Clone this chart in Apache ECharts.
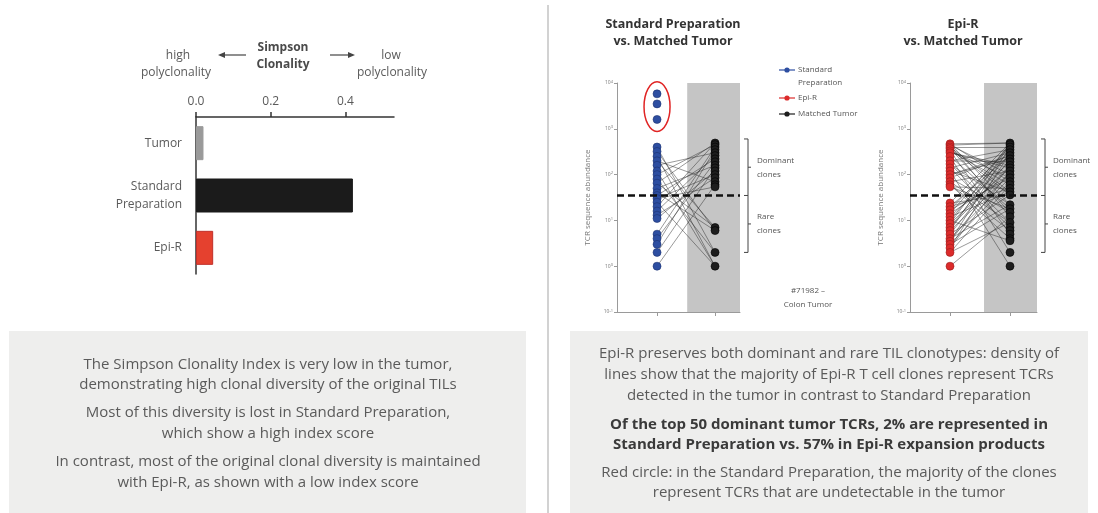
<!DOCTYPE html>
<html><head><meta charset="utf-8">
<script src="https://cdn.jsdelivr.net/npm/echarts@6/dist/echarts.min.js"></script>
<style>html,body{margin:0;padding:0;background:#fff}#c{width:1098px;height:513px}</style>
</head><body><div id="c"></div>
<script>
// ---------- DATA ----------
const barCategories = ['Tumor', 'Standard\nPreparation', 'Epi-R'];
const clonalityValues = [0.02, 0.42, 0.046];
const clonalityTicks = [0, 0.2, 0.4];

// Panel 1: Standard Preparation vs. Matched Tumor (TCR sequence abundance)
const stdPrepValues = [5800, 3500, 1600, 400, 320, 250, 200, 160, 120, 100, 80, 65, 50, 40, 35, 30, 25, 20, 16, 13, 11, 5, 4, 3, 2, 1];
const stdTumorValues = [490, 450, 400, 350, 300, 260, 220, 190, 160, 140, 120, 100, 85, 70, 60, 54, 7, 6, 2, 1];
const stdLinks = [[400, 2], [320, 6], [250, 1], [200, 7], [160, 300], [120, 1], [100, 450], [80, 2], [65, 7], [50, 160], [40, 6], [35, 220], [30, 100], [25, 1], [20, 490], [16, 260], [13, 85], [11, 120], [5, 400], [4, 190], [3, 350], [2, 140], [1, 60], [30, 54], [65, 490], [200, 70]];

// Panel 2: Epi-R vs. Matched Tumor
const epiValues = [470, 440, 400, 370, 330, 300, 250, 200, 170, 140, 120, 100, 85, 70, 60, 54, 24, 20, 17, 14, 12, 10, 8.5, 7, 6, 5, 4, 3.5, 3, 2.5, 2, 1];
const epiTumorValues = [490, 450, 400, 350, 300, 260, 220, 190, 160, 140, 120, 100, 85, 70, 60, 50, 42, 36, 22, 18, 15, 12, 9, 7, 6, 5, 4, 3.6, 2, 1];
const epiLinks = [[470, 490], [470, 22], [440, 12], [400, 400], [370, 36], [330, 5], [300, 160], [250, 2], [200, 350], [170, 9], [140, 300], [120, 1], [100, 220], [85, 15], [70, 120], [60, 6], [54, 50], [470, 70], [400, 42], [300, 140], [250, 18], [200, 190], [140, 7], [100, 260], [60, 4], [24, 490], [20, 260], [17, 400], [14, 450], [12, 190], [10, 350], [8.5, 140], [7, 300], [6, 100], [5, 220], [4, 85], [3.5, 160], [3, 70], [2.5, 120], [2, 60], [1, 12], [24, 36], [17, 85], [12, 42], [8.5, 490], [6, 450], [4, 22], [3, 18], [2, 9], [14, 100], [10, 3.6], [440, 100], [370, 15], [330, 60], [170, 22], [120, 42], [85, 260], [70, 9], [54, 18], [20, 50], [7, 160], [5, 36], [3.5, 400], [2.5, 300], [440, 490], [330, 85]];

const dominantThreshold = 35;
const bracketRange = [600, 35, 2];

// ---------- STYLE ----------
const FONT = '"Open Sans", "Noto Sans", sans-serif';
const TXT = '#5a5a5a';
const BLUE = '#2d4ea1', RED = '#dc2b2b', BLACK = '#1e1e1e';
const barColors = ['#9a9a9a', '#1b1b1b', '#e5412f'];

const chart = echarts.init(document.getElementById('c'), null, {renderer: 'canvas'});

function logLabel(v) {
  const e = Math.round(Math.log10(v));
  return '10{s|' + e + '}';
}

function plotXAxis(grid, min, max) {
  return {gridIndex: grid, type: 'value', min: min, max: max,
    axisLine: {show: true, onZero: false, lineStyle: {color: '#9a9a9a', width: 1}},
    axisTick: {show: true, customValues: [0, 1], length: 4, lineStyle: {color: '#9a9a9a'}},
    axisLabel: {show: false}, splitLine: {show: false}};
}
function plotYAxis(grid) {
  return {gridIndex: grid, type: 'log', logBase: 10, min: 0.1, max: 10000,
    axisLine: {show: true, onZero: false, lineStyle: {color: '#9a9a9a', width: 1}},
    axisTick: {show: true, length: 3, lineStyle: {color: '#9a9a9a'}},
    axisLabel: {formatter: logLabel, fontSize: 5, color: '#777', margin: 4,
      rich: {s: {fontSize: 4, color: '#777', verticalAlign: 'top', padding: [0, 0, 3, 0]}}},
    splitLine: {show: false},
    name: 'TCR sequence abundance', nameLocation: 'middle', nameGap: 25,
    nameTextStyle: {fontSize: 8, color: '#777', fontFamily: FONT}};
}
function linkSeries(xi, links) {
  return {type: 'lines', coordinateSystem: 'cartesian2d', xAxisIndex: xi, yAxisIndex: xi,
    data: links.map(l => ({coords: [[0, l[0]], [1, l[1]]]})),
    lineStyle: {color: '#2a2a2a', width: 0.6, opacity: 0.8}, silent: true, z: 2};
}
function pointSeries(xi, xpos, values, color, border, extra) {
  return Object.assign({type: 'scatter', xAxisIndex: xi, yAxisIndex: xi,
    data: values.map(v => [xpos, v]), symbolSize: 8,
    itemStyle: {color: color, borderColor: border, borderWidth: 0.6, opacity: 1}, z: 3, silent: true}, extra || {});
}
function bgMarks(x0, x1) {
  return {
    markArea: {silent: true, itemStyle: {color: '#c5c5c5'}, data: [[{xAxis: x0}, {xAxis: x1}]]},
    markLine: {silent: true, symbol: 'none', label: {show: false},
      lineStyle: {type: [7, 4], color: '#111', width: 2.5}, data: [{yAxis: dominantThreshold}]}
  };
}

const option = {
  animation: false,
  textStyle: {fontFamily: FONT},
  grid: [
    {left: 196, top: 117, width: 198, height: 157},
    {left: 617, top: 83, width: 123, height: 229},
    {left: 910, top: 83, width: 127, height: 229}
  ],
  xAxis: [
    {gridIndex: 0, type: 'value', position: 'top', min: 0, max: 0.53,
      axisLine: {show: true, lineStyle: {color: '#333', width: 1.5}},
      axisTick: {show: true, customValues: clonalityTicks, length: 5, lineStyle: {color: '#333', width: 1.5}},
      axisLabel: {customValues: clonalityTicks, formatter: v => v.toFixed(1), color: TXT, fontSize: 12, margin: 9},
      splitLine: {show: false}},
    plotXAxis(1, -0.69, 1.43),
    plotXAxis(2, -0.667, 1.45)
  ],
  yAxis: [
    {gridIndex: 0, type: 'category', data: barCategories, inverse: true,
      axisLine: {show: true, lineStyle: {color: '#333', width: 1.5}}, axisTick: {show: false},
      axisLabel: {color: TXT, fontSize: 12, margin: 14, lineHeight: 18}},
    plotYAxis(1),
    plotYAxis(2)
  ],
  series: [
    {type: 'bar', xAxisIndex: 0, yAxisIndex: 0, barWidth: 34, silent: true,
      data: clonalityValues.map((v, i) => ({value: v, itemStyle: {color: barColors[i], borderColor: i === 2 ? '#c0302a' : barColors[i], borderWidth: 1}}))},
    linkSeries(1, stdLinks),
    pointSeries(1, 0, stdPrepValues, BLUE, '#1d3270', bgMarks(0.52, 1.43)),
    pointSeries(1, 1, stdTumorValues, BLACK, '#000'),
    linkSeries(2, epiLinks),
    pointSeries(2, 0, epiValues, RED, '#9a1c1c', bgMarks(0.567, 1.45)),
    pointSeries(2, 1, epiTumorValues, BLACK, '#000')
  ]
};
chart.setOption(option);

// ---------- ANNOTATIONS ----------
function txt(x, y, text, o) {
  o = o || {};
  return {type: 'text', x: x, y: y, silent: true, z: 20,
    style: {text: text, fill: o.color || TXT, font: (o.weight || 'normal') + ' ' + (o.size || 15) + 'px ' + FONT,
      align: o.align || 'center', verticalAlign: 'middle', lineHeight: o.lh || 20}};
}
function seg(x1, y1, x2, y2, color, w) {
  return {type: 'line', silent: true, z: 20, shape: {x1: x1, y1: y1, x2: x2, y2: y2}, style: {stroke: color || '#333', lineWidth: w || 1}};
}
function tri(points, color) {
  return {type: 'polygon', silent: true, z: 20, shape: {points: points}, style: {fill: color}};
}
function bracket(gi, x, tx) {
  const ys = bracketRange.map(v => chart.convertToPixel({gridIndex: gi}, [0, v])[1]);
  const c = '#444';
  const dMid = (ys[0] + ys[1]) / 2, rMid = (ys[1] + ys[2]) / 2;
  return [
    seg(x, ys[0], x, ys[2], c, 1), seg(x - 4, ys[0], x, ys[0], c, 1), seg(x - 4, ys[2], x, ys[2], c, 1),
    seg(x - 4, ys[1], x, ys[1], c, 1), seg(x, dMid, x + 3, dMid, c, 1), seg(x, rMid, x + 3, rMid, c, 1),
    txt(tx, dMid, 'Dominant\nclones', {size: 8, align: 'left', lh: 14, color: '#555'}),
    txt(tx, rMid, 'Rare\nclones', {size: 8, align: 'left', lh: 14, color: '#555'})
  ];
}
function legendItem(x, y, color, label) {
  return [
    seg(x - 8, y, x + 8, y, color, 1.2),
    {type: 'circle', silent: true, z: 21, shape: {cx: x, cy: y, r: 2.6}, style: {fill: color}},
    txt(x + 11, y + (label.indexOf('\n') >= 0 ? 6.5 : 0), label, {size: 8, align: 'left', lh: 13, color: '#555'})
  ];
}

// red ellipse around the top-3 standard-preparation clones
const topPix = stdPrepValues.slice(0, 3).map(v => chart.convertToPixel({gridIndex: 1}, [0, v]));
const eCy = (topPix[0][1] + topPix[2][1]) / 2;
const eRy = (topPix[2][1] - topPix[0][1]) / 2 + 12;

const graphics = [
  // panel backgrounds
  {type: 'rect', silent: true, z: 0, shape: {x: 9, y: 331, width: 517, height: 182}, style: {fill: '#eeeeed'}},
  {type: 'rect', silent: true, z: 0, shape: {x: 570, y: 331, width: 518, height: 182}, style: {fill: '#eeeeed'}},
  seg(548, 5, 548, 513, '#d2d2d2', 2),

  // bar chart header
  txt(178, 56, 'high', {size: 12}), txt(176, 73, 'polyclonality', {size: 12}),
  txt(283, 48, 'Simpson', {size: 12, weight: 'bold', color: '#4a4a4a'}), txt(283, 65, 'Clonality', {size: 12, weight: 'bold', color: '#4a4a4a'}),
  txt(391, 56, 'low', {size: 12}), txt(392, 73, 'polyclonality', {size: 12}),
  seg(224, 55, 246, 55, '#444', 1.2), tri([[218, 55], [225, 52], [225, 58]], '#444'),
  seg(330, 55, 349, 55, '#444', 1.2), tri([[355, 55], [348, 52], [348, 58]], '#444'),

  // right titles
  txt(673, 24, 'Standard Preparation', {size: 12.5, weight: 'bold', color: '#333'}),
  txt(673, 41, 'vs. Matched Tumor', {size: 12.5, weight: 'bold', color: '#333'}),
  txt(963, 24, 'Epi-R', {size: 12.5, weight: 'bold', color: '#333'}),
  txt(963, 41, 'vs. Matched Tumor', {size: 12.5, weight: 'bold', color: '#333'}),

  // ellipse
  {type: 'ellipse', silent: true, z: 20, shape: {cx: topPix[0][0], cy: eCy, rx: 13, ry: eRy}, style: {fill: 'none', stroke: '#e02424', lineWidth: 1.5}},

  txt(808, 291, '#71982 \u2013', {size: 8, color: '#555'}),
  txt(808, 305, 'Colon Tumor', {size: 8, color: '#555'}),

  // left text box
  txt(268, 365, 'The Simpson Clonality Index is very low in the tumor,'),
  txt(268, 385, 'demonstrating high clonal diversity of the original TILs'),
  txt(268, 413, 'Most of this diversity is lost in Standard Preparation,'),
  txt(268, 434, 'which show a high index score'),
  txt(268, 462, 'In contrast, most of the original clonal diversity is maintained'),
  txt(268, 483, 'with Epi-R, as shown with a low index score'),

  // right text box
  txt(829, 354, 'Epi-R preserves both dominant and rare TIL clonotypes: density of'),
  txt(829, 375, 'lines show that the majority of Epi-R T cell clones represent TCRs'),
  txt(829, 396, 'detected in the tumor in contrast to Standard Preparation'),
  txt(829, 425, 'Of the top 50 dominant tumor TCRs, 2% are represented in', {weight: 'bold', color: '#3a3a3a'}),
  txt(829, 445, 'Standard Preparation vs. 57% in Epi-R expansion products', {weight: 'bold', color: '#3a3a3a'}),
  txt(829, 473, 'Red circle: in the Standard Preparation, the majority of the clones'),
  txt(829, 493, 'represent TCRs that are undetectable in the tumor')
].concat(
  legendItem(787, 70, BLUE, 'Standard\nPreparation'),
  legendItem(787, 98, RED, 'Epi-R'),
  legendItem(787, 114, BLACK, 'Matched Tumor'),
  bracket(1, 748, 757),
  bracket(2, 1045, 1053)
);

chart.setOption({graphic: graphics});
</script>
</body></html>
